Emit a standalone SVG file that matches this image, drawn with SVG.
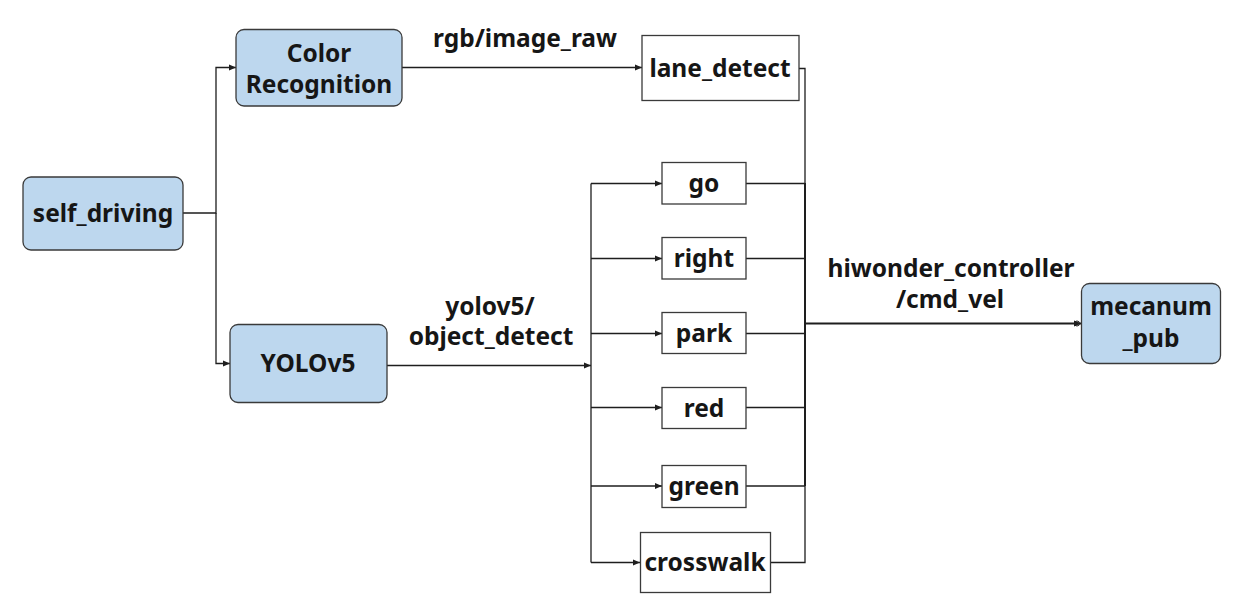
<svg xmlns="http://www.w3.org/2000/svg" width="1236" height="598" viewBox="0 0 1236 598">
<style>
.blue{fill:#bdd7ee;stroke:#3a3a3a;stroke-width:1.3}
.white{fill:#ffffff;stroke:#3a3a3a;stroke-width:1.3}
text{font-family:"Noto Sans","Open Sans","DejaVu Sans",sans-serif;font-weight:bold;fill:#161616;text-anchor:middle}
.t{font-size:24.5px}
.l{font-size:24.5px}
.c{fill:none;stroke:#1e1e1e;stroke-width:1.3}
</style>
<defs>
<marker id="ah" markerUnits="userSpaceOnUse" markerWidth="8" markerHeight="8" refX="7" refY="4" orient="auto">
<path d="M0,1 L7,4 L0,7 Z" fill="#1e1e1e"/>
</marker>
</defs>
<rect width="1236" height="598" fill="#ffffff"/>
<g id="connectors">
<path class="c" d="M183,213 H216 V67.5 H236" marker-end="url(#ah)"/>
<path class="c" d="M216,213 V363.5 H230" marker-end="url(#ah)"/>
<path class="c" d="M402,67.5 H642" marker-end="url(#ah)"/>
<path class="c" d="M387,365.5 H591" marker-end="url(#ah)"/>
<path class="c" d="M591,183.5 V562.5"/>
<path class="c" d="M591,183.5 H662" marker-end="url(#ah)"/>
<path class="c" d="M591,258.5 H662" marker-end="url(#ah)"/>
<path class="c" d="M591,333.5 H662" marker-end="url(#ah)"/>
<path class="c" d="M591,407.5 H662" marker-end="url(#ah)"/>
<path class="c" d="M591,486 H662" marker-end="url(#ah)"/>
<path class="c" d="M591,562.5 H640" marker-end="url(#ah)"/>
<path class="c" d="M799,68.5 H805 V562.5 H771"/>
<path class="c" d="M805,183 V486" style="stroke-width:2"/>
<path class="c" d="M746,183.5 H805"/>
<path class="c" d="M746,258.5 H805"/>
<path class="c" d="M746,333.5 H805"/>
<path class="c" d="M746,407.5 H805"/>
<path class="c" d="M746,486 H805"/>
<path class="c" d="M805,323.5 H1081" style="stroke-width:2" marker-end="url(#ah)"/>
<circle cx="1077" cy="323.5" r="2.5" fill="none" stroke="#1e1e1e" stroke-width="1"/>
</g>
<g id="self_driving"><rect class="blue" x="23" y="177" width="160" height="73" rx="8"/><text class="t" x="103" y="221.5">self_driving</text></g>
<g id="color_recognition"><rect class="blue" x="236" y="29.5" width="166" height="76.5" rx="8"/><text class="t" x="319" y="61.5">Color</text><text class="t" x="319" y="92.5">Recognition</text></g>
<g id="yolov5"><rect class="blue" x="230" y="324.5" width="157" height="78" rx="8"/><text class="t" x="308" y="372">YOLOv5</text></g>
<g id="lane_detect"><rect class="white" x="642" y="35.5" width="157" height="65"/><text class="t" x="720" y="77">lane_detect</text></g>
<g id="go"><rect class="white" x="662" y="162.5" width="84" height="41.5"/><text class="t" x="704" y="191.5">go</text></g>
<g id="right"><rect class="white" x="662" y="237.5" width="84" height="41.5"/><text class="t" x="704" y="266.5">right</text></g>
<g id="park"><rect class="white" x="662" y="312.5" width="84" height="41"/><text class="t" x="704" y="341.5">park</text></g>
<g id="red"><rect class="white" x="662" y="387.5" width="84" height="41"/><text class="t" x="704" y="417">red</text></g>
<g id="green"><rect class="white" x="662" y="465.5" width="84" height="42"/><text class="t" x="704" y="495">green</text></g>
<g id="crosswalk"><rect class="white" x="640.5" y="532.5" width="130" height="60"/><text class="t" x="705" y="570.5">crosswalk</text></g>
<g id="mecanum_pub"><rect class="blue" x="1081.5" y="283.5" width="139" height="80" rx="8"/><text class="t" x="1151" y="315">mecanum</text><text class="t" x="1151" y="346.5">_pub</text></g>
<g id="labels">
<text class="l" x="525" y="46.5">rgb/image_raw</text>
<text class="l" x="490" y="314.5">yolov5/</text>
<text class="l" x="491" y="344.5">object_detect</text>
<text class="l" x="951" y="276.5">hiwonder_controller</text>
<text class="l" x="950" y="307.5">/cmd_vel</text>
</g>
</svg>
